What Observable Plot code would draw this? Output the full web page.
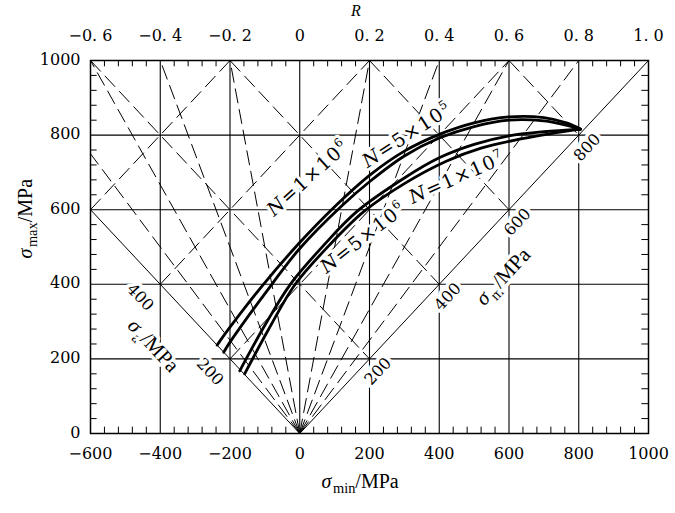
<!DOCTYPE html>
<html><head><meta charset="utf-8">
<script src="https://cdn.jsdelivr.net/npm/d3@7"></script>
<script src="https://cdn.jsdelivr.net/npm/@observablehq/plot@0.6"></script>
<style>html,body{margin:0;padding:0;background:#fff}#chart svg{display:block}</style>
</head><body><div id="chart"></div>
<script>
// ---- data ----
const sigmaMinTicks = [-600, -400, -200, 0, 200, 400, 600, 800, 1000];
const sigmaMaxTicks = [0, 200, 400, 600, 800, 1000];
const rTicks = [-0.6, -0.4, -0.2, 0, 0.2, 0.4, 0.6, 0.8, 1.0];
const rTickLabels = ["−0. 6", "−0. 4", "−0. 2", "0", "0. 2", "0. 4", "0. 6", "0. 8", "1. 0"];
const gridMin = [-400, -200, 0, 200, 400, 600, 800];
const gridMax = [200, 400, 600, 800];
const rLines = [-0.8, -0.6, -0.4, -0.2, 0.2, 0.4, 0.6, 0.8];   // dashed constant-R rays
const rAxes = [-1, 1];                                           // σa axis (R=-1), σm axis (R=1)
const sigmaMLines = [200, 400, 600, 800];                        // dashed constant σm
const sigmaALines = [200, 400, 600];                             // dashed constant σa
const sigmaALabels = [200, 400];
const sigmaMLabels = [200, 400, 600, 800];

const curveN5e5Min = [-237, -200, -104, 0, 100, 200, 300, 400, 500, 600, 700, 767, 805];
const curveN5e5Max = [237, 285, 400, 512, 608, 692, 757, 802, 833, 849, 847, 832, 816];
const curveN1e6Min = [-218, -200, -80, 0, 120, 200, 300, 400, 500, 600, 700, 767, 805];
const curveN1e6Max = [218, 245, 400, 496, 610, 675, 744, 792, 823, 840, 838, 826, 816];
const curveN5e6Min = [-172, -100, -27, 70, 165, 300, 400, 500, 600, 700, 805];
const curveN5e6Max = [168, 290, 400, 506, 596, 685, 739, 775, 798, 809, 816];
const curveN1e7Min = [-158, -90, -13, 85, 185, 300, 420, 520, 630, 720, 805];
const curveN1e7Max = [160, 278, 400, 505, 596, 670, 730, 765, 789, 804, 816];

const curves = [
  ["5e5", curveN5e5Min, curveN5e5Max],
  ["1e6", curveN1e6Min, curveN1e6Max],
  ["5e6", curveN5e6Min, curveN5e6Max],
  ["1e7", curveN1e7Min, curveN1e7Max]
].flatMap(([n, xs, ys]) => xs.map((x, i) => ({n, smin: x, smax: ys[i]})));

// ---- helpers ----
function rEnd(r) {
  if (r > 0) return [1000 * r, 1000];
  const xTop = 1000 * r;
  return xTop >= -600 ? [xTop, 1000] : [-600, -600 / r];
}
const fmt = d => d < 0 ? "−" + (-d) : String(d);
const minorX = d3.range(-560, 1000, 40).filter(v => v % 200 !== 0);
const minorY = d3.range(40, 1000, 40).filter(v => v % 200 !== 0);
const tY = 17, tX = 19;   // minor tick length (data units ≈ 6.5px)

const NUM = "DejaVu Serif";
const TXT = "Liberation Serif";
const halo = {stroke: "white", strokeWidth: 7, paintOrder: "stroke", strokeLinejoin: "round", fill: "black"};
const dash = {stroke: "black", strokeWidth: 1, strokeDasharray: "15,6"};
const curveLab = {fontFamily: NUM, fontSize: 19, ...halo, strokeWidth: 6};

const chart = Plot.plot({
  width: 675, height: 513,
  marginLeft: 90, marginRight: 27, marginTop: 60, marginBottom: 80,
  x: {domain: [-600, 1000], axis: null},
  y: {domain: [0, 1000], axis: null},
  style: {background: "white", color: "black", fontFamily: NUM, fontSize: "16px", overflow: "visible"},
  marks: [
    Plot.ruleX(gridMin, {x: d => d, stroke: "black", strokeWidth: 1.1}),
    Plot.ruleY(gridMax, {y: d => d, stroke: "black", strokeWidth: 1.1}),
    Plot.link(rLines, {x1: () => 0, y1: () => 0, x2: r => rEnd(r)[0], y2: r => rEnd(r)[1], ...dash}),
    Plot.link(sigmaMLines, {x1: m => 2 * m - 1000, y1: () => 1000, x2: m => m, y2: m => m, ...dash}),
    Plot.link(sigmaALines, {x1: a => -a, y1: a => a, x2: a => 1000 - 2 * a, y2: () => 1000, ...dash}),
    Plot.link(rAxes, {x1: () => 0, y1: () => 0, x2: r => rEnd(r)[0], y2: r => rEnd(r)[1], stroke: "black", strokeWidth: 1}),
    // minor ticks (inward)
    Plot.ruleX(minorX, {x: d => d, y1: () => 0, y2: () => tY, stroke: "black"}),
    Plot.ruleX(minorX, {x: d => d, y1: () => 1000, y2: () => 1000 - tY, stroke: "black"}),
    Plot.ruleY(minorY, {y: d => d, x1: () => -600, x2: () => -600 + tX, stroke: "black"}),
    Plot.ruleY(minorY, {y: d => d, x1: () => 1000, x2: () => 1000 - tX, stroke: "black"}),
    Plot.frame({stroke: "black", strokeWidth: 1.5}),
    // tick labels
    Plot.text(sigmaMinTicks, {x: d => d, frameAnchor: "bottom", lineAnchor: "middle", dy: 20, text: fmt, fontFamily: NUM, fontSize: 16}),
    Plot.text(sigmaMaxTicks, {y: d => d, frameAnchor: "left", lineAnchor: "middle", dx: -10, dy: -1, textAnchor: "end", text: fmt, fontFamily: NUM, fontSize: 16}),
    Plot.text(rTicks, {x: r => r * 1000, frameAnchor: "top", lineAnchor: "middle", dy: -25, text: (r, i) => rTickLabels[i], fontFamily: NUM, fontSize: 16}),
    // σa / σm axis labels
    Plot.text(sigmaALabels, {x: v => -v, y: v => v, dx: -20, dy: 13, rotate: 47, text: fmt, fontFamily: NUM, fontSize: 16, ...halo}),
    Plot.text(sigmaMLabels, {x: v => v, y: v => v, dx: 8.5, dy: 12.5, rotate: -47, text: fmt, fontFamily: NUM, fontSize: 16, ...halo}),
    Plot.text(["*σ*_{a}/MPa"], {x: () => -420, y: () => 236, rotate: 47, text: d => d, fontFamily: TXT, fontSize: 21, ...halo}),
    Plot.text(["*σ*_{m}/MPa"], {x: () => 583, y: () => 421, rotate: -47, text: d => d, fontFamily: TXT, fontSize: 21, ...halo}),
    // curve labels
    Plot.text(["*N*=1×10^{6}"], {x: () => 24, y: () => 685, rotate: -42, text: d => d, ...curveLab}),
    Plot.text(["*N*=5×10^{5}"], {x: () => 308, y: () => 800, rotate: -33, text: d => d, ...curveLab}),
    Plot.text(["*N*=5×10^{6}"], {x: () => 182, y: () => 525, rotate: -38, text: d => d, ...curveLab}),
    Plot.text(["*N*=1×10^{7}"], {x: () => 451, y: () => 686, rotate: -24, text: d => d, ...curveLab}),
    // curves
    Plot.line(curves, {x: "smin", y: "smax", z: "n", curve: "catmull-rom", stroke: "black", strokeWidth: 2.8}),
    // axis titles
    Plot.text(["*σ*_{max}/MPa"], {frameAnchor: "left", lineAnchor: "middle", y: () => 469, dx: -65, rotate: -90, text: d => d, fontFamily: TXT, fontSize: 20}),
    Plot.text(["*σ*_{min}/MPa"], {frameAnchor: "bottom", lineAnchor: "middle", x: () => 173, dy: 48, text: d => d, fontFamily: TXT, fontSize: 20}),
    Plot.text(["*R*"], {frameAnchor: "top", lineAnchor: "middle", x: () => 161, dy: -50, text: d => d, fontFamily: TXT, fontSize: 16})
  ]
});
document.getElementById("chart").appendChild(chart);

// rich text: *italic*, _{sub}, ^{sup}
function richify(svg) {
  for (const t of svg.querySelectorAll("text")) {
    const s = t.textContent;
    if (!/[_^*]/.test(s)) continue;
    const fs = parseFloat(getComputedStyle(t).fontSize) || 16;
    const isCurve = s.startsWith("*N*");
    while (t.firstChild) t.removeChild(t.firstChild);
    const re = /\*([^*]+)\*|_\{([^}]*)\}|\^\{([^}]*)\}|([^*_^]+)/g;
    let m, cur = 0;
    while ((m = re.exec(s))) {
      const ts = document.createElementNS("http://www.w3.org/2000/svg", "tspan");
      let target = 0;
      if (m[1] != null) { ts.textContent = m[1]; ts.setAttribute("font-style", "italic"); }
      else if (m[2] != null) { ts.textContent = m[2]; ts.setAttribute("font-size", fs * 0.72); target = 0.26 * fs; ts.setAttribute("dx", fs * 0.08); }
      else if (m[3] != null) { ts.textContent = m[3]; ts.setAttribute("font-size", fs * 0.62); target = -0.42 * fs; }
      else ts.textContent = m[4];
      if (isCurve) ts.setAttribute("letter-spacing", "1.5");
      if (target !== cur) { ts.setAttribute("dy", target - cur); cur = target; }
      t.appendChild(ts);
    }
  }
}
richify(chart);
</script>
</body></html>
